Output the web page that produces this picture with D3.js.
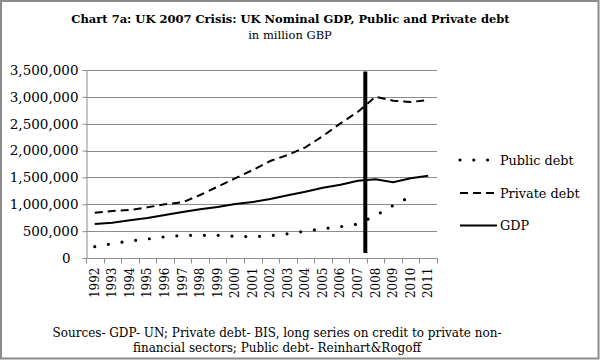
<!DOCTYPE html>
<html>
<head>
<meta charset="utf-8">
<script src="https://d3js.org/d3.v7.min.js"></script>
<style>
    body { margin: 0; background: #fff; }
    svg { display: block; font-family: "DejaVu Serif", serif; }
    .grid line { stroke: #8c8c8c; stroke-width: 1; }
    .axis path, .axis line { stroke: #8c8c8c; }
</style>
</head>
<body>
<script>
//chart data, million GBP
var years = ["1992","1993","1994","1995","1996","1997","1998","1999","2000","2001",
             "2002","2003","2004","2005","2006","2007","2008","2009","2010","2011"];
var publicDebt = [210000,268000,316000,354000,395000,422000,422000,422000,402000,396000,
                  415000,452000,499000,544000,583000,633000,790000,977000,1145000,null];
var privateDebt = [843000,875000,894000,943000,1000000,1036000,1173000,1328000,1483000,1638000,
                   1806000,1918000,2060000,2271000,2507000,2724000,3003000,2929000,2904000,2942000];
var gdp = [633000,658000,701000,745000,800000,856000,906000,949000,1005000,1043000,
           1098000,1167000,1235000,1309000,1365000,1439000,1465000,1409000,1484000,1532000];
var yTicks = [0,500000,1000000,1500000,2000000,2500000,3000000,3500000];
var crisisYear = "2008";
var crisisRange = [95000, 3470000];
var seriesNames = ["Public debt", "Private debt", "GDP"];

//begin script when window loads
window.onload = setChart();

function setChart(){

    var width = 600,
        height = 360;

    var svg = d3.select("body")
        .append("svg")
        .attr("width", width)
        .attr("height", height);

    //outer frame
    svg.append("rect")
        .attr("x", 1).attr("y", 1)
        .attr("width", width - 2.5).attr("height", height - 2.5)
        .attr("fill", "#fff")
        .attr("stroke", "#8c8c8c")
        .attr("stroke-width", 2);

    //plot area edges
    var left = 86, right = 437, top = 70, bottom = 258;

    var x = d3.scaleBand()
        .domain(years)
        .range([left, right]);

    var y = d3.scaleLinear()
        .domain([0, 3500000])
        .range([bottom, top]);

    //horizontal gridlines
    svg.append("g")
        .attr("class", "grid")
        .selectAll("line")
        .data(yTicks.slice(1))
        .enter()
        .append("line")
        .attr("x1", left).attr("x2", right)
        .attr("y1", function(d){ return Math.round(y(d)) + 0.5; })
        .attr("y2", function(d){ return Math.round(y(d)) + 0.5; });

    //y axis
    var yAxis = svg.append("g")
        .attr("class", "axis")
        .attr("transform", "translate(" + (left + 0.5) + ",0)")
        .call(d3.axisLeft(y).tickValues(yTicks).tickSize(4).tickPadding(4)
            .tickFormat(d3.format(",")));
    yAxis.selectAll("text")
        .attr("font-family", "DejaVu Serif")
        .attr("font-size", 13.5)
        .attr("fill", "#000")
        .attr("dx", function(d){ return d === 0 ? -8 : 0; });

    //x axis with ticks between categories
    var xAxis = svg.append("g")
        .attr("class", "axis")
        .attr("transform", "translate(0," + (bottom + 0.5) + ")");
    xAxis.append("line")
        .attr("x1", left).attr("x2", right + 0.5);
    xAxis.selectAll(".tick")
        .data(years.concat(["end"]))
        .enter()
        .append("line")
        .attr("x1", function(d){ return d === "end" ? right + 0.5 : Math.round(x(d)) + 0.5; })
        .attr("x2", function(d){ return d === "end" ? right + 0.5 : Math.round(x(d)) + 0.5; })
        .attr("y1", 0).attr("y2", 5);
    xAxis.selectAll(".label")
        .data(years)
        .enter()
        .append("text")
        .attr("transform", function(d){
            return "translate(" + (x(d) + x.bandwidth() / 2 + 4) + ",9) rotate(-90)";
        })
        .attr("text-anchor", "end")
        .attr("font-size", 12)
        .text(function(d){ return d; });

    //line generators
    var line = d3.line()
        .defined(function(d){ return d != null; })
        .x(function(d, i){ return x(years[i]) + x.bandwidth() / 2; })
        .y(function(d){ return y(d); });

    var styles = [
        {data: publicDebt, dash: "0 13.8", width: 3.2, cap: "round"},
        {data: privateDebt, dash: "8 5", width: 2, cap: "butt"},
        {data: gdp, dash: null, width: 2, cap: "butt"}
    ];

    svg.selectAll(".series")
        .data(styles)
        .enter()
        .append("path")
        .attr("class", "series")
        .attr("fill", "none")
        .attr("stroke", "#000")
        .attr("stroke-width", function(d){ return d.width; })
        .attr("stroke-linecap", function(d){ return d.cap; })
        .attr("stroke-dasharray", function(d){ return d.dash; })
        .attr("d", function(d){ return line(d.data); });

    //crisis marker bar
    svg.append("line")
        .attr("x1", x(crisisYear) - 1.5)
        .attr("x2", x(crisisYear) - 1.5)
        .attr("y1", y(crisisRange[0]))
        .attr("y2", y(crisisRange[1]))
        .attr("stroke", "#000")
        .attr("stroke-width", 4);

    //legend
    var legendY = [160, 193, 225.5];
    var legend = svg.selectAll(".legend")
        .data(styles)
        .enter()
        .append("g")
        .attr("class", "legend")
        .attr("transform", function(d, i){ return "translate(460," + legendY[i] + ")"; });
    legend.append("line")
        .attr("x1", 0).attr("x2", 37)
        .attr("stroke", "#000")
        .attr("stroke-width", function(d){ return d.width; })
        .attr("stroke-linecap", function(d){ return d.cap; })
        .attr("stroke-dasharray", function(d){ return d.dash; });
    legend.append("text")
        .attr("x", 40)
        .attr("y", 4.5)
        .attr("font-size", 12.8)
        .text(function(d, i){ return seriesNames[i]; });

    //titles
    svg.append("text")
        .attr("x", 290.5).attr("y", 22.5)
        .attr("text-anchor", "middle")
        .attr("font-weight", "bold")
        .attr("font-size", 11.5)
        .text("Chart 7a: UK 2007 Crisis: UK Nominal GDP, Public and Private debt");
    svg.append("text")
        .attr("x", 290).attr("y", 39)
        .attr("text-anchor", "middle")
        .attr("font-size", 11.5)
        .text("in million GBP");

    //sources note
    svg.append("text")
        .attr("x", 277).attr("y", 336.5)
        .attr("text-anchor", "middle")
        .attr("font-size", 12)
        .text("Sources- GDP- UN; Private debt- BIS, long series on credit to private non-");
    svg.append("text")
        .attr("x", 277).attr("y", 351.5)
        .attr("text-anchor", "middle")
        .attr("font-size", 12)
        .text("financial sectors; Public debt- Reinhart&Rogoff");
};
</script>
</body>
</html>
